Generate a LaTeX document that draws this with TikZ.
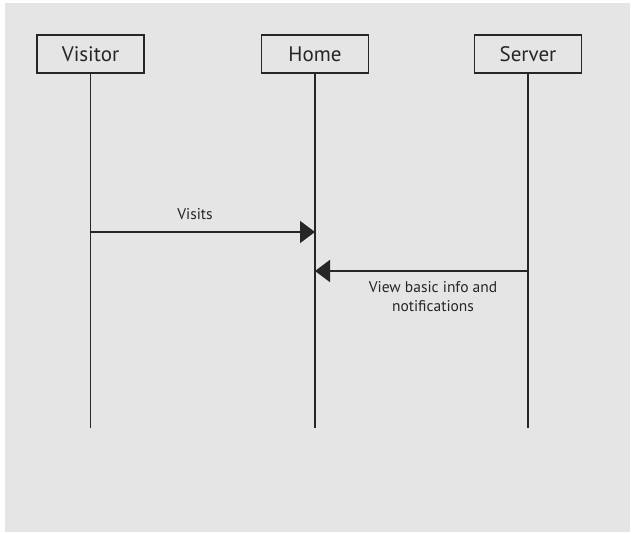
\documentclass[tikz,border=0pt]{standalone}
\usepackage{fontspec}
\setmainfont{PT Sans}
\usetikzlibrary{arrows.meta}
\definecolor{bg}{HTML}{E5E5E5}
\definecolor{ink}{HTML}{262626}
\begin{document}
\begin{tikzpicture}[x=1pt,y=-1pt,
  actor/.style={draw=ink,line width=1.8pt,minimum width=107pt,minimum height=38pt,inner sep=0pt,font=\fontsize{21}{24}\selectfont,text=ink},
  life/.style={draw=ink,line width=1.8pt},
  msg/.style={draw=ink,line width=1.8pt,-{Triangle[length=15pt,width=22pt]}},
  lbl/.style={font=\fontsize{15.5}{19}\selectfont,text=ink,align=center}]
\useasboundingbox (0,0) rectangle (632,533);
\fill[white] (0,0) rectangle (632,533);
\fill[bg] (5,3) rectangle (630,532);
\node[actor] (visitor) at (90.5,54) {Visitor};
\node[actor] (home) at (315,54) {Home};
\node[actor] (server) at (528,54) {Server};
\coordinate (vend) at (90.5,428);
\coordinate (hend) at (315,428);
\coordinate (send) at (528,428);
\draw[life] (visitor.south) -- (vend);
\draw[life] (home.south) -- (hend);
\draw[life] (server.south) -- (send);
\coordinate (v1) at (90.5,232);
\coordinate (h1) at (315,232);
\coordinate (s2) at (528,271);
\coordinate (h2) at (315,271);
\draw[msg] (v1) -- (h1);
\draw[msg] (s2) -- (h2);
\node[lbl] (l1) at (195,214) {Visits};
\node[lbl] (l2) at (433,297) {View basic info and\\notifications};
\end{tikzpicture}
\end{document}
